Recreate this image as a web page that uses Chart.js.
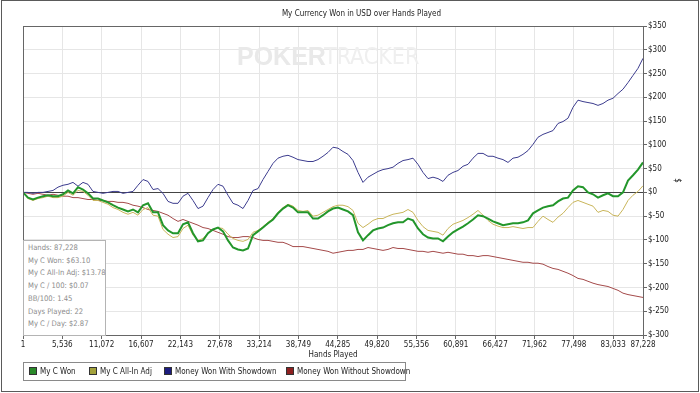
<!DOCTYPE html>
<html>
<head>
<meta charset="utf-8">
<script src="https://cdn.jsdelivr.net/npm/chart.js@4.4.1/dist/chart.umd.min.js"></script>
<style>
  body { margin: 0; background: #fff; }
  #wrap { position: relative; width: 700px; height: 393px; overflow: hidden;
          font-family: "DejaVu Sans Condensed", "Liberation Sans", Arial, sans-serif; }
  #frame { position: absolute; left: 1px; top: 0; width: 696px; height: 390px; border: 1px solid #5a5a5a; pointer-events: none; }
  #legend { position: absolute; left: 23px; top: 362px; width: 383px; height: 19px; border: 1px solid #8a8a8a;
            box-sizing: border-box; font-size: 8px; color: #222; background: #fff; }
  .item { position: absolute; top: 4px; line-height: 10px; white-space: nowrap; }
  .sw { display: inline-block; width: 6px; height: 6px; border: 1px solid #333; margin-right: 3px; vertical-align: -1px; }
  #stats { position: absolute; left: 23px; top: 240px; width: 83px; height: 96px; background: #fff; border: 1px solid #b4b4b4;
           box-sizing: border-box; color: #8c8c8c; font-size: 7.6px; line-height: 12.7px; padding: 1px 0 0 4px; white-space: nowrap; }
</style>
</head>
<body>
<div id="wrap">
  <canvas id="chart" width="700" height="393"></canvas>
  <div id="stats"></div>
  <div id="legend"></div>
  <div id="frame"></div>
</div>
<script>
// x axis tick labels (hands played)
const handTicks = [1, 5536, 11072, 16607, 22143, 27678, 33214, 38749, 44285, 49820,
                   55356, 60891, 66427, 71962, 77498, 83033, 87228];
const dollarTicks = [-300, -250, -200, -150, -100, -50, 0, 50, 100, 150, 200, 250, 300, 350];

// running totals in $, sampled evenly from hand 1 to hand 87,228
const myCWon = [0,-11,-15,-11,-8,-6,-8,-8,-4,4, -2,11,6,-2,-13,-13,-17,-21,-27,-32,
  -36,-40,-36,-42,-27,-23,-42,-42,-69,-80, -86,-86,-67,-63,-86,-103,-101,-86,-78,-74,
  -82,-101,-116,-120,-122,-118,-90,-82,-74,-65, -57,-44,-34,-27,-32,-42,-42,-42,-55,-55,
  -48,-40,-34,-32,-36,-40,-48,-84,-101,-90, -80,-76,-74,-69,-65,-63,-63,-55,-59,-76,
  -88,-95,-97,-97,-103,-93,-84,-78,-72,-65, -57,-48,-50,-55,-61,-65,-69,-67,-65,-65,
  -63,-59,-44,-38,-32,-29,-27,-19,-13,-11, 4,13,11,0,-4,-11,-6,-2,-8,-8,
  0,25,36,48,63];

const myCAllInAdj = [0,-13,-17,-13,-11,-8,-11,-11,-8,0, -6,4,2,-6,-17,-17,-21,-25,-32,-36,
  -42,-46,-42,-48,-36,-32,-48,-50,-78,-88, -95,-93,-76,-69,-90,-101,-97,-86,-78,-74,
  -76,-88,-97,-101,-103,-99,-84,-80,-72,-63, -55,-42,-32,-25,-29,-38,-40,-38,-50,-48,
  -42,-36,-30,-27,-27,-30,-38,-65,-74,-67, -59,-55,-55,-50,-46,-44,-42,-36,-42,-59,
  -72,-80,-82,-84,-90,-76,-67,-63,-59,-53, -46,-38,-48,-59,-67,-71,-74,-74,-72,-74,
  -76,-74,-74,-61,-50,-57,-63,-52,-44,-32, -21,-17,-21,-25,-29,-42,-38,-40,-48,-50,
  -36,-17,-6,2,14];

const wonWithShowdown = [0,0,-2,0,0,2,4,11,15,17, 21,13,21,17,2,0,-2,0,2,2,
  -2,0,2,15,27,23,6,8,-2,-19, -23,-23,-8,-2,-17,-34,-29,-11,6,17,
  13,-6,-23,-27,-34,-17,4,8,27,44, 61,72,76,78,74,69,67,65,65,69,
  76,84,95,93,86,80,67,42,21,32, 38,44,48,50,53,61,67,69,72,59,
  42,29,32,29,23,36,42,46,55,59, 72,82,82,76,76,72,69,63,72,74,
  80,88,101,116,122,126,130,145,149,156, 179,194,191,189,187,183,187,194,198,208,
  217,231,246,261,282];

const wonWithoutShowdown = [0,-2,-4,-2,-4,-6,-4,-6,-8,-8, -11,-11,-13,-15,-15,-17,-17,-19,-19,-21,
  -21,-23,-27,-29,-32,-36,-38,-40,-44,-48, -55,-61,-57,-61,-65,-69,-74,-76,-80,-84,
  -88,-93,-95,-95,-93,-93,-95,-99,-101,-101, -103,-105,-105,-109,-114,-114,-114,-116,-118,-120,
  -122,-124,-128,-126,-124,-122,-122,-120,-120,-116, -118,-120,-122,-120,-116,-118,-118,-120,-122,-124,
  -124,-126,-124,-126,-128,-126,-128,-130,-130,-133, -133,-135,-133,-133,-135,-137,-139,-141,-143,-145,
  -147,-147,-149,-149,-151,-156,-160,-162,-166,-170, -175,-181,-183,-187,-191,-194,-196,-198,-202,-206,
  -212,-215,-217,-219,-221];

const statLines = ['Hands: 87,228', 'My C Won: $63.10', 'My C All-In Adj: $13.78', 'My C / 100: $0.07',
                   'BB/100: 1.45', 'Days Played: 22', 'My C / Day: $2.87'];

const totalHands = 87228;
const font = { family: '"DejaVu Sans Condensed", "Liberation Sans", Arial, sans-serif', size: 8 };

function toPoints(values) {
  const step = (totalHands - 1) / (values.length - 1);
  return values.map((v, i) => ({ x: Math.round(1 + i * step), y: v }));
}

const series = [
  { label: 'My C Won', data: myCWon, line: '#23962b', box: '#2a8a2a', width: 2 },
  { label: 'My C All-In Adj', data: myCAllInAdj, line: '#c9b55a', box: '#a3a23c', width: 1 },
  { label: 'Money Won With Showdown', data: wonWithShowdown, line: '#3c3c8e', box: '#1c1c7e', width: 1 },
  { label: 'Money Won Without Showdown', data: wonWithoutShowdown, line: '#a44a4a', box: '#8e2020', width: 1 }
];

const boxAndMark = {
  id: 'boxAndMark',
  beforeDatasetsDraw(chart) {
    const ctx = chart.ctx;
    ctx.save();
    ctx.textBaseline = 'middle';
    ctx.font = 'bold 25px "Liberation Sans", Arial, sans-serif';
    ctx.fillStyle = '#e9e9e9';
    ctx.fillText('POKER', 237, 58);
    ctx.font = '23px "DejaVu Sans Condensed", "Liberation Sans", Arial, sans-serif';
    ctx.fillStyle = '#efefef';
    ctx.fillText('TRACKER', 324, 58);
    ctx.restore();
  },
  afterDatasetsDraw(chart) {
    const { ctx, chartArea: a } = chart;
    ctx.save();
    ctx.strokeStyle = '#666';
    ctx.lineWidth = 1;
    ctx.strokeRect(Math.round(a.left) + 0.5, Math.round(a.top) + 0.5, Math.round(a.width), Math.round(a.height));
    ctx.restore();
  }
};

new Chart(document.getElementById('chart'), {
  type: 'line',
  data: {
    datasets: series.map(s => ({
      label: s.label,
      data: toPoints(s.data),
      borderColor: s.line,
      backgroundColor: s.box,
      borderWidth: s.width,
      pointRadius: 0,
      tension: 0
    }))
  },
  options: {
    responsive: false,
    animation: false,
    layout: { padding: { left: 23, right: 0, top: 0, bottom: 28 } },
    plugins: {
      legend: { display: false },
      tooltip: { enabled: false },
      title: {
        display: true,
        text: 'My Currency Won in USD over Hands Played',
        color: '#222',
        font: { ...font, weight: 'normal' },
        padding: { top: 9, bottom: 7.4 }
      }
    },
    scales: {
      x: {
        type: 'linear',
        min: 1,
        max: totalHands,
        afterBuildTicks: s => { s.ticks = handTicks.map(v => ({ value: v })); },
        afterFit: s => { s.height = 30; },
        grid: { color: '#e6e6e6', tickColor: '#666', tickLength: 4 },
        border: { color: '#666' },
        ticks: { autoSkip: false, maxRotation: 0, padding: 1, color: '#222', font,
                 callback: v => Number(v).toLocaleString('en-US') },
        title: { display: true, text: 'Hands Played', color: '#222', font, padding: { top: 0, bottom: 5 } }
      },
      y: {
        position: 'right',
        min: -300,
        max: 350,
        afterBuildTicks: s => { s.ticks = dollarTicks.map(v => ({ value: v })); },
        afterFit: s => { s.width = 57; },
        grid: { color: c => (c.tick && c.tick.value === 0 ? '#444' : '#e6e6e6'), tickColor: '#666', tickLength: 4 },
        border: { color: '#666' },
        ticks: { padding: 1, color: '#222', font, callback: v => '$' + v },
        title: { display: true, text: '$', color: '#222', font, padding: { top: 18, bottom: 0 } }
      }
    }
  },
  plugins: [boxAndMark]
});

// stats box
document.getElementById('stats').innerHTML = statLines.map(t => '<div>' + t + '</div>').join('');

// legend
const legendX = [5, 65, 140, 262];
document.getElementById('legend').innerHTML = series.map((s, i) =>
  '<span class="item" style="left:' + legendX[i] + 'px"><span class="sw" style="background:' + s.box + '"></span>' + s.label + '</span>'
).join('');
</script>
</body>
</html>
